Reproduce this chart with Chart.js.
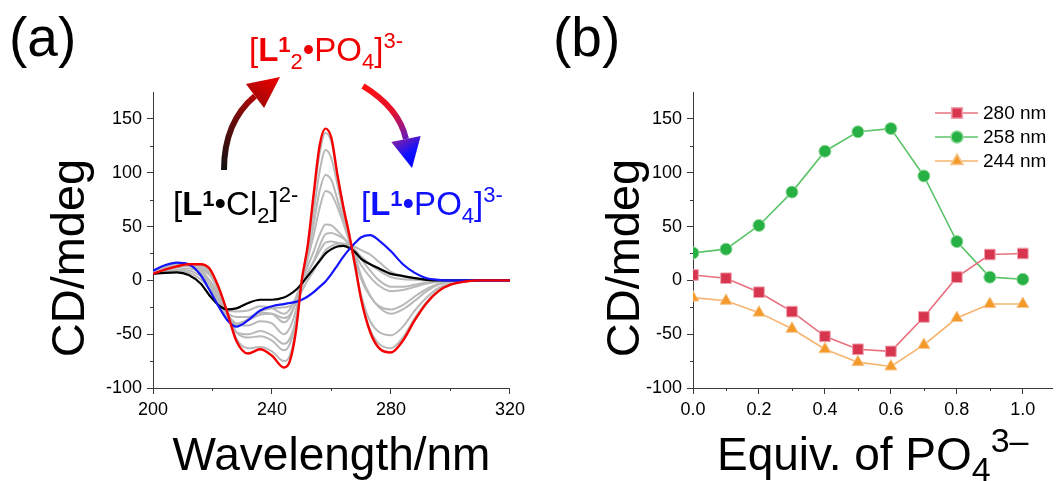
<!DOCTYPE html>
<html>
<head>
<meta charset="utf-8">
<title>CD titration</title>
<script src="https://cdn.jsdelivr.net/npm/chart.js@4.4.1/dist/chart.umd.min.js"></script>
<style>
  html, body { margin: 0; padding: 0; background: #fff; }
  #wrap { position: relative; width: 1061px; height: 481px; overflow: hidden; background: #fff; }
  canvas { position: absolute; top: 0; }
  #cdChart { left: 0; }
  #titrChart { left: 530px; }
</style>
</head>
<body>
<div id="wrap">
  <canvas id="cdChart" width="530" height="481"></canvas>
  <canvas id="titrChart" width="531" height="481"></canvas>
</div>
<script>
// ---- spectra (panel a): CD in mdeg vs wavelength, one array per equivalent of phosphate
const wavelengths = [200, 204, 208, 212, 216, 219, 222, 225, 228, 232, 236, 240, 244, 246, 248, 250, 252, 254,
  256, 258, 260, 262, 264, 266, 268, 270, 273, 276, 280, 284, 288, 292, 296, 300, 305, 310, 320];

const cd00 = [6, 7, 7.5, 5, -3, -14, -23, -27, -26, -21, -18, -18, -16, -13, -9, -3, 4, 11,
  18, 25, 29, 31.5, 32, 30, 26, 20, 15, 11, 6, 4, 2, 0.5, 0, 0, 0, 0, 0];
const cd01 = [6, 8, 8, 7, 1, -8, -20, -28, -29, -28, -24, -26, -31, -27, -16, -2, 8, 17,
  27, 35, 36, 35, 34, 32, 28, 22, 15, 9, 3, 1, 0.5, 0, 0, 0, 0, 0, 0];
const cd02 = [6, 8, 9, 9, 4, -4, -17, -30, -34, -34, -30, -31, -39, -34, -20, -1, 13, 27,
  42, 52, 51, 46, 40, 33, 24, 14, 3, -5, -10, -9, -6, -3, -1, 0, 0, 0, 0];
const cd03 = [6, 9, 10, 11, 7, 0, -13, -31, -40, -42, -38, -40, -50, -44, -28, 0, 20, 42,
  67, 83, 80, 68, 53, 36, 18, 1, -15, -24, -27, -23, -15, -8, -3, -1, 0, 0, 0];
const cd04 = [6, 9, 12, 13, 11, 5, -10, -31, -48, -53, -52, -56, -65, -59, -38, 0, 27, 63,
  101, 121, 113, 89, 63, 40, 12, -14, -38, -48, -51, -43, -28, -16, -7, -3, -1, 0, 0];
const cd05 = [6, 10, 13, 14.5, 14, 9, -7, -30, -54, -63, -62, -66, -75, -70, -45, 0, 31, 76,
  118, 137, 128, 97, 68, 42, 10, -17, -46, -59, -63, -53, -35, -20, -9, -4, -1, 0, 0];
const cd06 = [6, 10, 13, 15, 15, 11, -6, -30, -56, -68, -64, -70, -81, -75, -48, 0, 32, 80,
  125, 141, 132, 98, 68, 42, 13, -18, -48, -63, -67, -56, -37, -21, -10, -4, -1, 0, 0];
const cd07 = [7, 11, 14, 15, 13, 7, -10, -32, -48, -50, -47, -51, -59, -54, -36, -3, 21, 52,
  83, 98, 93, 75, 57, 40, 22, 4, -14, -25, -31, -27, -19, -10, -4, -1, 0, 0, 0];
const cd08 = [7, 12, 15, 15, 10, 0, -16, -33, -40, -37, -32, -31, -35, -32, -21, -6, 7, 18,
  32, 43, 44, 42, 39, 34, 28, 20, 9, 0, -6, -6, -4, -2, -1, 0, 0, 0, 0];
const cd09 = [8, 13, 16, 15, 8, -4, -20, -35, -41, -36, -29, -26, -25, -24, -19, -10, 0, 9,
  19, 28, 32, 34, 34, 33, 31, 28, 24, 17, 8, 4, 2, 0.5, 0, 0, 0, 0, 0];
const cd10 = [9, 14, 16.5, 15, 5, -9, -24, -37, -43, -37, -28, -24, -22, -21, -20, -18, -15, -11,
  -6, -1, 6, 14, 22, 29, 35, 40, 42, 37, 27, 15, 7, 2, 0.5, 0, 0, 0, 0];

// ---- titration (panel b): CD at three wavelengths vs equivalents of PO4
const equivalents = [0, 0.1, 0.2, 0.3, 0.4, 0.5, 0.6, 0.7, 0.8, 0.9, 1.0];
const cdAt280 = [5, 2, -11, -29, -52, -64, -66, -34, 3, 24, 25];
const cdAt258 = [25.5, 29, 51, 82, 120, 138, 141, 97, 36, 3, 1];
const cdAt244 = [-16, -19, -30, -45, -64, -76, -80, -60, -35, -22, -22];
const seriesLabels = ['280 nm', '258 nm', '244 nm'];

// ---- axes
const wlTicksMinor = [220, 260, 300];
const eqTicksMinor = [0.1, 0.3, 0.5, 0.7, 0.9];
const cdTicksMinor = [-75, -25, 25, 75, 125];

const FONT = "'Liberation Sans', Arial, Helvetica, sans-serif";
const AXIS = '#3a3a3a';
const GREY = '#b9b9b9';
const TICK_FONT = 18;
const TITLE_FONT = 46;
Chart.defaults.font.family = FONT;
Chart.defaults.color = '#000';

const pts = (xs, ys) => xs.map((x, i) => ({ x, y: ys[i] }));

// draws "text with sub/superscripts" pieces left to right
function richText(ctx, x, y, parts, size, color, align, smallScale = 0.68) {
  const font = (st) => {
    const small = st === 'sub' || st === 'sup' || st === 'bsup';
    return `${st === 'b' || st === 'bsup' ? 'bold ' : ''}${small ? Math.round(size * smallScale) : size}px ${FONT}`;
  };
  let w = 0;
  parts.forEach(([t, st]) => { ctx.font = font(st); w += ctx.measureText(t).width; });
  let cx = align === 'center' ? x - w / 2 : x;
  ctx.fillStyle = color;
  ctx.textAlign = 'left';
  ctx.textBaseline = 'alphabetic';
  parts.forEach(([t, st]) => {
    ctx.font = font(st);
    let dy = 0;
    if (st === 'sub') dy = size * 0.24;
    if (st === 'sup') dy = -size * 0.4;
    if (st === 'bsup') dy = -size * 0.27;
    ctx.fillText(t, cx, y + dy);
    cx += ctx.measureText(t).width;
  });
}

function yTitle(ctx, text, cx, cy) {
  ctx.save();
  ctx.translate(cx, cy);
  ctx.rotate(-Math.PI / 2);
  ctx.font = `47px ${FONT}`;
  ctx.fillStyle = '#000';
  ctx.textAlign = 'center';
  ctx.textBaseline = 'middle';
  ctx.fillText(text, 0, 0);
  ctx.restore();
}

function curvedArrow(ctx, p0, c, p1, tip, halfBase, stops, width) {
  const g = ctx.createLinearGradient(p0[0], p0[1], tip[0], tip[1]);
  stops.forEach(([o, col]) => g.addColorStop(o, col));
  ctx.save();
  ctx.strokeStyle = g;
  ctx.fillStyle = g;
  ctx.lineWidth = width;
  ctx.lineCap = 'butt';
  ctx.beginPath();
  ctx.moveTo(p0[0], p0[1]);
  ctx.quadraticCurveTo(c[0], c[1], p1[0], p1[1]);
  ctx.stroke();
  const dx = tip[0] - p1[0], dy = tip[1] - p1[1];
  const len = Math.hypot(dx, dy);
  const nx = -dy / len, ny = dx / len;
  ctx.beginPath();
  ctx.moveTo(tip[0], tip[1]);
  ctx.lineTo(p1[0] + nx * halfBase, p1[1] + ny * halfBase);
  ctx.lineTo(p1[0] - nx * halfBase, p1[1] - ny * halfBase);
  ctx.closePath();
  ctx.fill();
  ctx.restore();
}

// short ticks between the labelled ones
const minorTicks = {
  id: 'minorTicks',
  afterDraw(chart, args, opts) {
    const { ctx } = chart;
    const { x, y } = chart.scales;
    ctx.save();
    ctx.strokeStyle = AXIS;
    ctx.lineWidth = 1;
    ctx.beginPath();
    opts.x.forEach(v => {
      const px = Math.round(x.getPixelForValue(v)) + 0.5;
      ctx.moveTo(px, y.bottom);
      ctx.lineTo(px, y.bottom + 3);
    });
    opts.y.forEach(v => {
      const py = Math.round(y.getPixelForValue(v)) + 0.5;
      ctx.moveTo(x.left, py);
      ctx.lineTo(x.left - 3, py);
    });
    ctx.stroke();
    ctx.restore();
  },
};

const spectraDecor = {
  id: 'spectraDecor',
  afterDraw(chart) {
    const { ctx } = chart;
    ctx.save();
    ctx.font = `55px ${FONT}`;
    ctx.fillStyle = '#000';
    ctx.textBaseline = 'alphabetic';
    ctx.fillText('(a)', 9, 56);
    yTitle(ctx, 'CD/mdeg', 71, 258);

    curvedArrow(ctx, [224, 170], [224, 122], [255, 96], [280, 77], 15,
      [[0, '#111'], [0.45, '#6b0c0c'], [1, '#f00000']], 6);
    curvedArrow(ctx, [363, 86], [399, 108], [406, 139], [412, 168], 15,
      [[0, '#ff1010'], [0.4, '#e4102e'], [0.7, '#6a1cb8'], [0.85, '#1010ff'], [1, '#0000ff']], 6);

    richText(ctx, 249, 61, [['[', ''], ['L', 'b'], ['1', 'bsup'], ['2', 'sub'], ['•PO', ''], ['4', 'sub'], [']', ''], ['3-', 'sup']], 33, '#f00000');
    richText(ctx, 173, 215, [['[', ''], ['L', 'b'], ['1', 'bsup'], ['•Cl', ''], ['2', 'sub'], [']', ''], ['2-', 'sup']], 33, '#000');
    richText(ctx, 361, 215, [['[', ''], ['L', 'b'], ['1', 'bsup'], ['•PO', ''], ['4', 'sub'], [']', ''], ['3-', 'sup']], 33, '#1010ff');
    ctx.restore();
  },
};

const titrationDecor = {
  id: 'titrationDecor',
  afterDraw(chart) {
    const { ctx, chartArea } = chart;
    ctx.save();
    ctx.font = `55px ${FONT}`;
    ctx.fillStyle = '#000';
    ctx.textBaseline = 'alphabetic';
    ctx.fillText('(b)', 23, 56);
    yTitle(ctx, 'CD/mdeg', 96, 258);

    richText(ctx, (chartArea.left + chartArea.right) / 2, 470,
      [['Equiv. of PO', ''], ['4', 'sub'], ['3–', 'sup']], TITLE_FONT, '#000', 'center', 0.74);

    // legend: line sample with marker, then label
    chart.data.datasets.forEach((ds, i) => {
      const yy = 113 + i * 24;
      ctx.strokeStyle = ds.borderColor;
      ctx.lineWidth = ds.borderWidth;
      ctx.beginPath();
      ctx.moveTo(405, yy);
      ctx.lineTo(448, yy);
      ctx.stroke();
      ctx.fillStyle = ds.pointBackgroundColor;
      ctx.strokeStyle = ds.pointBorderColor;
      Chart.helpers.drawPoint(ctx, { pointStyle: ds.pointStyle, radius: ds.pointRadius, borderWidth: ds.pointBorderWidth, rotation: 0 }, 427, yy);
      ctx.fillStyle = '#000';
      ctx.font = `19px ${FONT}`;
      ctx.textBaseline = 'middle';
      ctx.fillText(ds.label, 453, yy + 1);
    });
    ctx.restore();
  },
};

function cdAxis(width) {
  return {
    type: 'linear',
    min: -100,
    max: 175,
    border: { color: AXIS, width: 1 },
    grid: { drawOnChartArea: false, tickLength: 6, color: AXIS },
    ticks: { stepSize: 50, includeBounds: false, padding: 5, font: { size: TICK_FONT }, color: '#000' },
    afterFit(scale) { scale.width = width; },
  };
}

const spectra = [
  { vals: cd06, color: '#f50000', w: 2.4 },
  { vals: cd10, color: '#1414ff', w: 2.2 },
  { vals: cd00, color: '#000000', w: 2.2 },
  { vals: cd05, color: GREY, w: 2 },
  { vals: cd04, color: GREY, w: 2 },
  { vals: cd07, color: GREY, w: 2 },
  { vals: cd03, color: GREY, w: 2 },
  { vals: cd02, color: GREY, w: 2 },
  { vals: cd08, color: GREY, w: 2 },
  { vals: cd01, color: GREY, w: 2 },
  { vals: cd09, color: GREY, w: 2 },
];

new Chart(document.getElementById('cdChart'), {
  type: 'line',
  data: {
    datasets: spectra.map(s => ({
      data: pts(wavelengths, s.vals),
      borderColor: s.color,
      borderWidth: s.w,
      pointRadius: 0,
      fill: false,
      cubicInterpolationMode: 'monotone',
    })),
  },
  options: {
    responsive: false,
    animation: false,
    events: [],
    layout: { padding: { top: 92, right: 8, left: 0, bottom: 0 } },
    plugins: {
      legend: { display: false },
      tooltip: { enabled: false },
      minorTicks: { x: wlTicksMinor, y: cdTicksMinor },
    },
    scales: {
      x: {
        type: 'linear',
        min: 200,
        max: 320,
        border: { color: AXIS, width: 1 },
        grid: { drawOnChartArea: false, tickLength: 6, color: AXIS },
        ticks: { stepSize: 40, padding: 5, font: { size: TICK_FONT }, color: '#000', maxRotation: 0 },
        title: { display: true, text: 'Wavelength/nm', font: { size: TITLE_FONT }, color: '#000', padding: { top: 0, bottom: -4 } },
        afterFit(scale) { scale.height = 93; },
      },
      y: cdAxis(153),
    },
  },
  plugins: [minorTicks, spectraDecor],
});

new Chart(document.getElementById('titrChart'), {
  type: 'line',
  data: {
    datasets: [
      { label: seriesLabels[0], data: pts(equivalents, cdAt280), borderColor: '#e8707f', pointBackgroundColor: '#d8354f', pointBorderColor: '#f0a0ad', pointStyle: 'rect', pointRadius: 7.5 },
      { label: seriesLabels[1], data: pts(equivalents, cdAt258), borderColor: '#5cc46a', pointBackgroundColor: '#27b043', pointBorderColor: '#90d89b', pointStyle: 'circle', pointRadius: 6 },
      { label: seriesLabels[2], data: pts(equivalents, cdAt244), borderColor: '#f6b46e', pointBackgroundColor: '#f39a2a', pointBorderColor: '#f8c68f', pointStyle: 'triangle', pointRadius: 7 },
    ].map(d => ({ ...d, borderWidth: 1.6, pointBorderWidth: 1, tension: 0, fill: false })),
  },
  options: {
    responsive: false,
    animation: false,
    events: [],
    layout: { padding: { top: 92, right: 3, left: 0, bottom: 0 } },
    plugins: {
      legend: { display: false },
      tooltip: { enabled: false },
      minorTicks: { x: eqTicksMinor, y: cdTicksMinor },
    },
    scales: {
      x: {
        type: 'linear',
        min: 0,
        max: 1.09,
        border: { color: AXIS, width: 1 },
        grid: { drawOnChartArea: false, tickLength: 6, color: AXIS },
        ticks: { stepSize: 0.2, includeBounds: false, padding: 5, font: { size: TICK_FONT }, color: '#000', maxRotation: 0,
          callback: v => Number(v).toFixed(1) },
        afterFit(scale) { scale.height = 93; },
      },
      y: cdAxis(163),
    },
  },
  plugins: [minorTicks, titrationDecor],
});
</script>
</body>
</html>
